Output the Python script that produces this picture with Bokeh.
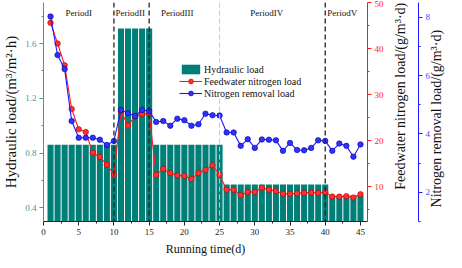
import math
from bokeh.plotting import figure
from bokeh.models import (Range1d, LinearAxis, FixedTicker, Span, Legend,
                          LegendItem, ColumnDataSource)
from bokeh.core.properties import value
from bokeh.embed import file_html
from bokeh.resources import INLINE

# ---------------- data ----------------
days = [1, 2, 3, 4, 5, 6, 7, 8, 9, 10,
        11, 12, 13, 14, 15,
        16, 17, 18, 19, 20, 21, 22, 23, 24, 25,
        26, 27, 28, 29, 30, 31, 32, 33, 34, 35, 36, 37, 38, 39, 40,
        41, 42, 43, 44, 45]
hydraulic_load = [0.86, 0.86, 0.86, 0.86, 0.86, 0.86, 0.86, 0.86, 0.86, 0.86,
                  1.71, 1.71, 1.71, 1.71, 1.71,
                  0.86, 0.86, 0.86, 0.86, 0.86, 0.86, 0.86, 0.86, 0.86, 0.86,
                  0.57, 0.57, 0.57, 0.57, 0.57, 0.57, 0.57, 0.57, 0.57, 0.57,
                  0.57, 0.57, 0.57, 0.57, 0.57,
                  0.49, 0.49, 0.49, 0.49, 0.49]
feedwater_n_load = [45.6, 41.1, 36.4, 26.9, 22.5, 21.9, 17.4, 16.5, 14.8, 12.7,
                    26.4, 23.3, 25.3, 25.8, 25.9,
                    12.6, 13.9, 13.0, 12.5, 12.4, 11.7, 13.0, 13.7, 14.7, 12.6,
                    9.4, 9.4, 8.2, 8.9, 8.9, 9.8, 9.4, 9.1, 8.5, 8.5,
                    8.6, 8.7, 8.8, 8.7, 8.9,
                    7.9, 7.9, 8.0, 7.7, 8.4]
n_removal_load = [8.02, 6.70, 6.22, 4.44, 3.87, 3.87, 3.87, 3.80, 3.62, 3.76,
                  4.82, 4.71, 4.61, 4.82, 4.78,
                  4.41, 4.44, 4.28, 4.52, 4.47, 4.28, 4.33, 4.69, 4.64, 4.63,
                  4.05, 4.05, 3.59, 3.82, 3.52, 3.81, 3.80, 3.78, 3.42, 3.69,
                  3.45, 3.44, 3.52, 3.78, 3.76,
                  3.42, 3.67, 3.59, 3.22, 3.64]

period_names = ["PeriodI", "PeriodII", "PeriodIII", "PeriodIV", "PeriodV"]
period_label_x = [5.0, 12.3, 19.0, 31.7, 42.4]
period_label_y = [1.82, 1.82, 1.82, 1.82, 1.82]
period_bounds_dark = [10, 15, 40]
period_bounds_light = [25]

x_ticks = [0, 5, 10, 15, 20, 25, 30, 35, 40, 45]
hyd_ticks = [0.4, 0.8, 1.2, 1.6]
feed_ticks = [10, 20, 30, 40, 50]
rem_ticks = [2, 4, 6, 8]

title_x = "Running time(d)"
title_hyd = "Hydraulic load/(m\u00b3/m\u00b2\u00b7h)"
title_feed = "Feedwater nitrogen load/(g/m\u00b3\u00b7d)"
title_rem = "Nitrogen removal load/(g/m\u00b3\u00b7d)"

# ---------------- style ----------------
FONT = "Liberation Serif"
TEAL = "#007f78"
TEAL_AX = "#3a9d96"
RED = "#ff1a1a"
BLUE = "#1a1aff"

p = figure(width=454, height=260, output_backend="svg", toolbar_location=None,
           x_range=Range1d(0, 46), y_range=Range1d(0.3, 1.9),
           min_border_left=33, min_border_right=0, min_border_top=2,
           min_border_bottom=39)
p.extra_y_ranges = {"feed": Range1d(2.5, 50), "rem": Range1d(1, 8.5)}
p.outline_line_color = None
p.xgrid.visible = False
p.ygrid.visible = False
p.background_fill_color = "white"

src = ColumnDataSource(dict(day=days, hyd=hydraulic_load,
                            feed=feedwater_n_load, rem=n_removal_load))

bars = p.vbar(x="day", top="hyd", bottom=0.3, width=0.86, source=src,
              fill_color=TEAL, line_color=None)

for b in period_bounds_dark:
    p.add_layout(Span(location=b, dimension="height", line_color="#222222",
                      line_dash="5 3", line_width=1.3))
for b in period_bounds_light:
    p.add_layout(Span(location=b, dimension="height", line_color="#c8c8c8",
                      line_dash="5 3", line_width=1.0))

red_line = p.line(x="day", y="feed", source=src, y_range_name="feed",
                  line_color=RED, line_width=1.1)
red_pts = p.scatter(x="day", y="feed", source=src, y_range_name="feed",
                    size=5.5, fill_color="#ff3030", line_color="#b00000",
                    line_width=0.6)
blue_line = p.line(x="day", y="rem", source=src, y_range_name="rem",
                   line_color=BLUE, line_width=1.1)
blue_pts = p.scatter(x="day", y="rem", source=src, y_range_name="rem",
                     size=5.5, fill_color="#3030ff", line_color="#0000a0",
                     line_width=0.6)

p.text(x=period_label_x, y=period_label_y, text=period_names,
       text_font=value(FONT), text_font_size="9px", text_color="#111111",
       text_align="center", text_baseline="middle")


def style_axis(ax, color, label_color, title, ticks, minor):
    ax.ticker = FixedTicker(ticks=ticks, minor_ticks=minor)
    ax.axis_label = title
    ax.axis_label_text_font = FONT
    ax.axis_label_text_font_style = "normal"
    ax.axis_label_text_font_size = "14px"
    ax.axis_label_text_color = "#111111"
    ax.major_label_text_font = FONT
    ax.major_label_text_font_size = "9px"
    ax.major_label_text_color = label_color
    ax.axis_line_color = color
    ax.major_tick_line_color = color
    ax.minor_tick_line_color = color
    ax.major_tick_in = 0
    ax.major_tick_out = 4
    ax.minor_tick_in = 0
    ax.minor_tick_out = 2
    ax.major_label_standoff = 3
    ax.axis_label_standoff = 4


def title_axis(range_name, anchor, title, gap):
    # blank axis whose single tick label carries a bottom-to-top title
    ax = LinearAxis(y_range_name=range_name,
                    ticker=FixedTicker(ticks=[anchor], minor_ticks=[]))
    ax.axis_line_color = None
    ax.major_tick_line_color = "white"
    ax.major_tick_in = 0
    ax.major_tick_out = gap
    ax.minor_tick_out = 0
    ax.major_label_standoff = 2
    ax.major_label_overrides = {anchor: title}
    ax.major_label_orientation = math.pi / 2
    ax.major_label_text_font = FONT
    ax.major_label_text_font_size = "14px"
    ax.major_label_text_color = "#111111"
    return ax


xa = p.xaxis[0]
style_axis(xa, "#222222", "#222222", title_x, x_ticks,
           [2.5, 7.5, 12.5, 17.5, 22.5, 27.5, 32.5, 37.5, 42.5])
xa.axis_label_text_font_size = "12px"

ya = p.yaxis[0]
style_axis(ya, TEAL_AX, TEAL_AX, title_hyd, hyd_ticks, [0.6, 1.0, 1.4, 1.8])
ya.axis_label_standoff = 3
ya.axis_label_text_font_size = "15px"

ax_feed = LinearAxis(y_range_name="feed")
style_axis(ax_feed, RED, RED, None, feed_ticks, [5, 15, 25, 35, 45])
p.add_layout(ax_feed, "right")
p.add_layout(title_axis("feed", 9.4, title_feed, 12), "right")

ax_rem = LinearAxis(y_range_name="rem")
style_axis(ax_rem, BLUE, "#4a4aff", None, rem_ticks, [1, 3, 5, 7])
p.add_layout(ax_rem, "right")
p.add_layout(title_axis("rem", 1.48, title_rem, 1), "right")

legend = Legend(items=[
    LegendItem(label="Hydraulic load", renderers=[bars]),
    LegendItem(label="Feedwater nitrogen load", renderers=[red_line, red_pts]),
    LegendItem(label="Nitrogen removal load", renderers=[blue_line, blue_pts]),
], location=(136, 122))
legend.label_text_font = FONT
legend.label_text_font_size = "10px"
legend.label_text_color = "#111111"
legend.label_height = 12
legend.glyph_height = 12
legend.glyph_width = 23
legend.label_standoff = 2
legend.spacing = 0
legend.padding = 0
legend.margin = 0
legend.border_line_color = None
legend.background_fill_color = "white"
legend.background_fill_alpha = 1.0
p.add_layout(legend)

open("out.html", "w").write(file_html(p, INLINE))
